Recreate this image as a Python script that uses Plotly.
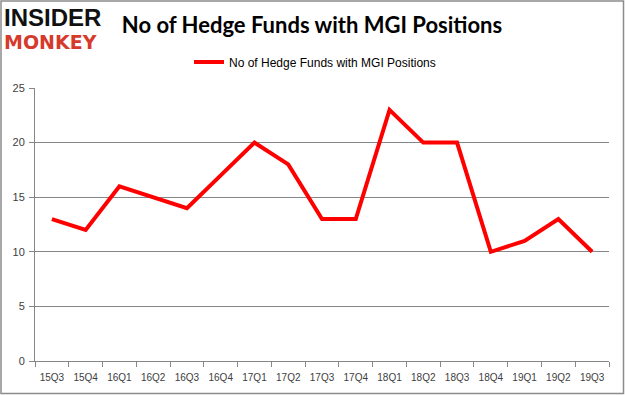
import plotly.graph_objects as go

quarters = ["15Q3", "15Q4", "16Q1", "16Q2", "16Q3", "16Q4", "17Q1", "17Q2", "17Q3",
            "17Q4", "18Q1", "18Q2", "18Q3", "18Q4", "19Q1", "19Q2", "19Q3"]
hedge_funds = [13, 12, 16, 15, 14, 17, 20, 18, 13, 13, 23, 20, 20, 10, 11, 13, 10]
y_ticks = [0, 5, 10, 15, 20, 25]
series_name = "No of Hedge Funds with MGI Positions"
title_text = "No of Hedge Funds with MGI Positions"

W, H = 625, 395
L, R, T, B = 35, 16, 88, 34
pw, ph = W - L - R, H - T - B


def px(x):
    return (x - L) / pw


def py(y):
    return (H - B - y) / ph


fig = go.Figure()
fig.add_trace(go.Scatter(
    x=quarters, y=hedge_funds, mode="lines", name=series_name,
    line=dict(color="#FF0000", width=4), showlegend=True,
))

fig.update_layout(
    width=W, height=H,
    margin=dict(l=L, r=R, t=T, b=B, autoexpand=False),
    paper_bgcolor="white", plot_bgcolor="white",
    font=dict(family="Liberation Sans", color="#595959", size=11),
    title=dict(text=title_text, x=px(312), xref="paper", xanchor="center",
               y=1 - 25 / H, yref="container", yanchor="middle",
               font=dict(family="Lato", size=22, color="#000000", weight="bold")),
    showlegend=True,
    legend=dict(orientation="h", x=px(189), xanchor="left", y=py(62), yanchor="middle",
                font=dict(family="Liberation Sans", size=12, color="#000000"),
                bgcolor="rgba(0,0,0,0)", itemwidth=30),
    xaxis=dict(type="category", showgrid=False, showline=True, linecolor="#868686",
               linewidth=1, ticks="outside", ticklen=5, tickcolor="#868686",
               tickson="boundaries", tickangle=0, ticklabelstandoff=7,
               tickfont=dict(size=10, color="#404040"),
               range=[-0.5, len(quarters) - 0.5], fixedrange=True),
    yaxis=dict(range=[0, 25], tickvals=y_ticks, showgrid=True, gridcolor="#868686",
               gridwidth=1, showline=True, linecolor="#868686", linewidth=1,
               ticks="outside", ticklen=5, tickcolor="#868686", zeroline=False,
               ticklabelstandoff=2,
               tickfont=dict(size=11, color="#404040"), fixedrange=True),
)

# outer border
fig.add_shape(type="rect", xref="paper", yref="paper",
              x0=px(1), x1=px(623.5), y0=py(393.5), y1=py(1),
              line=dict(color="#8C8C8C", width=1.5), fillcolor="rgba(0,0,0,0)", layer="below")

# logo
fig.add_annotation(text="<b>INSIDER</b>", xref="paper", yref="paper", x=px(3), y=py(17.5),
                   xanchor="left", yanchor="middle", showarrow=False, borderpad=0,
                   font=dict(family="Liberation Sans", size=24, color="#111111"))
fig.add_annotation(text="<b>MONKEY</b>", xref="paper", yref="paper", x=px(3), y=py(42),
                   xanchor="left", yanchor="middle", showarrow=False, borderpad=0,
                   font=dict(family="DejaVu Sans", size=19, color="#D63A2B"))

fig.write_html("out.html", config={"displayModeBar": False},
               post_script="document.body.style.margin='0';")
